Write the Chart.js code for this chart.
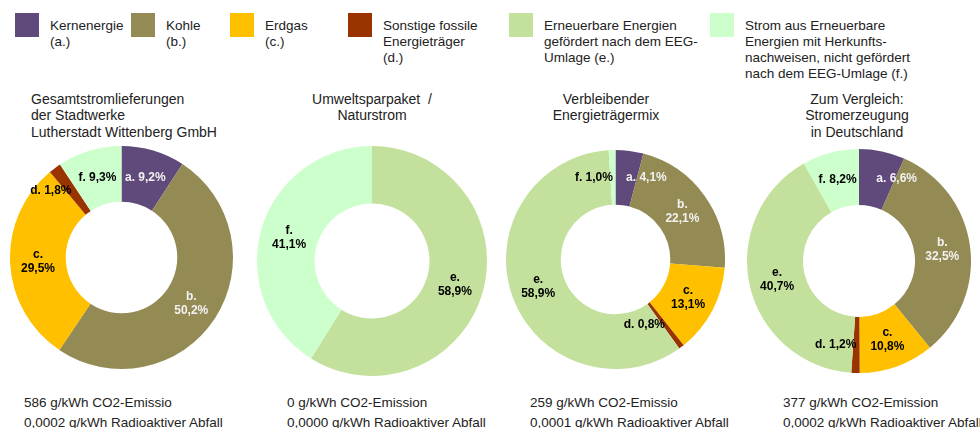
<!DOCTYPE html>
<html>
<head>
<meta charset="utf-8">
<script src="https://cdn.jsdelivr.net/npm/chart.js@4/dist/chart.umd.min.js"></script>
<style>
body { margin: 0; width: 980px; height: 428px; background: #fff; position: relative; overflow: hidden;
  font-family: "Liberation Sans", Arial, sans-serif; color: #222; }
.sw { position: absolute; width: 24px; height: 24px; }
.lg { position: absolute; top: 17.5px; font-size: 13.5px; line-height: 16px; white-space: nowrap; }
.tt { position: absolute; font-size: 14px; line-height: 16.5px; white-space: nowrap; top: 90.5px; }
.bt { position: absolute; top: 392.5px; font-size: 13.5px; line-height: 20px; white-space: nowrap; }
canvas { position: absolute; }
</style>
</head>
<body>
<div id="legend"></div>
<div id="titles"></div>
<div id="bottom"></div>
<canvas id="c0" width="223" height="223" style="left:10px;top:146px"></canvas>
<canvas id="c1" width="230" height="230" style="left:257px;top:146px"></canvas>
<canvas id="c2" width="219" height="219" style="left:506px;top:150px"></canvas>
<canvas id="c3" width="224" height="224" style="left:747px;top:149px"></canvas>
<script>
// ---- data ----
const letters = ["a", "b", "c", "d", "e", "f"];
const categories = [
  "Kernenergie<br>(a.)",
  "Kohle<br>(b.)",
  "Erdgas<br>(c.)",
  "Sonstige fossile<br>Energieträger<br>(d.)",
  "Erneuerbare Energien<br>gefördert nach dem EEG-<br>Umlage (e.)",
  "Strom aus Erneuerbare<br>Energien mit Herkunfts-<br>nachweisen, nicht gefördert<br>nach dem EEG-Umlage (f.)"
];
const colors = ["#604A7B", "#948A54", "#FFC000", "#993300", "#C3E19C", "#CCFFCC"];
const labelColors = ["#F2F2F2", "#F2F2F2", "#000", "#000", "#000", "#000"];

const gesamt = [9.2, 50.2, 29.5, 1.8, 0, 9.3];
const umweltsparpaket = [0, 0, 0, 0, 58.9, 41.1];
const verbleibend = [4.1, 22.1, 13.1, 0.8, 58.9, 1.0];
const deutschland = [6.6, 32.5, 10.8, 1.2, 40.7, 8.2];

const titles = [
  "Gesamtstromlieferungen<br>der Stadtwerke<br>Lutherstadt Wittenberg GmbH",
  "Umweltsparpaket&nbsp; /<br>Naturstrom",
  "Verbleibender<br>Energieträgermix",
  "Zum Vergleich:<br>Stromerzeugung<br>in Deutschland"
];
const co2 = ["586 g/kWh CO2-Emissio", "0 g/kWh CO2-Emission", "259 g/kWh CO2-Emissio", "377 g/kWh CO2-Emission"];
const waste = ["0,0002 g/kWh Radioaktiver Abfall", "0,0000 g/kWh Radioaktiver Abfall",
  "0,0001 g/kWh Radioaktiver Abfall", "0,0002 g/kWh Radioaktiver Abfall"];

// =========================
// LEGEND + TEXTS
// =========================
const swatchX = [15, 131, 230, 348, 509, 710];
const legendBox = document.getElementById("legend");
categories.forEach((txt, i) => {
  const sw = document.createElement("div");
  sw.className = "sw";
  sw.style.left = swatchX[i] + "px";
  sw.style.top = "13px";
  sw.style.background = colors[i];
  legendBox.appendChild(sw);
  const t = document.createElement("div");
  t.className = "lg";
  t.style.left = (swatchX[i] + 35) + "px";
  t.innerHTML = txt;
  legendBox.appendChild(t);
});

const titleBox = document.getElementById("titles");
const titleStyle = [
  "left:31px;text-align:left",
  "left:272px;width:200px;text-align:center",
  "left:506px;width:200px;text-align:center",
  "left:757px;width:200px;text-align:center"
];
titles.forEach((txt, i) => {
  const t = document.createElement("div");
  t.className = "tt";
  t.style.cssText = titleStyle[i];
  t.innerHTML = txt;
  titleBox.appendChild(t);
});

const bottomX = [24, 287, 530, 783];
const bottomBox = document.getElementById("bottom");
co2.forEach((txt, i) => {
  const t = document.createElement("div");
  t.className = "bt";
  t.style.left = bottomX[i] + "px";
  t.innerHTML = txt + "<br>" + waste[i];
  bottomBox.appendChild(t);
});

// =========================
// SLICE LABELS (plugin)
// =========================
const sliceLabels = {
  id: "sliceLabels",
  afterDatasetsDraw(chart) {
    const ctx = chart.ctx;
    const meta = chart.getDatasetMeta(0);
    const values = chart.data.datasets[0].data;
    ctx.save();
    ctx.font = 'bold 12px "Liberation Sans", Arial, sans-serif';
    ctx.textBaseline = "middle";
    meta.data.forEach((arc, i) => {
      const v = values[i];
      if (!v) return;
      const p = arc.getCenterPoint();
      const pct = v.toFixed(1).replace(".", ",") + "%";
      ctx.fillStyle = labelColors[i];
      if (v >= 10) {
        ctx.textAlign = "center";
        ctx.fillText(letters[i] + ".", p.x, p.y - 7);
        ctx.fillText(pct, p.x, p.y + 7);
      } else {
        let align = "center";
        if (v < 7) {
          const mid = (arc.startAngle + arc.endAngle) / 2 + Math.PI / 2;
          align = (mid > 0 && mid < Math.PI / 2) ? "left" : "right";
        }
        ctx.textAlign = align;
        ctx.fillText(letters[i] + ". " + pct, p.x, p.y);
      }
    });
    ctx.restore();
  }
};

function makeDonut(id, values) {
  return new Chart(document.getElementById(id), {
    type: "doughnut",
    data: {
      labels: letters,
      datasets: [{
        data: values,
        backgroundColor: colors,
        borderWidth: 0,
        hoverOffset: 0,
        offset: 0
      }]
    },
    options: {
      responsive: false,
      animation: false,
      events: [],
      cutout: "50%",
      layout: { padding: 0 },
      plugins: { legend: { display: false }, tooltip: { enabled: false } }
    },
    plugins: [sliceLabels]
  });
}

makeDonut("c0", gesamt);
makeDonut("c1", umweltsparpaket);
makeDonut("c2", verbleibend);
makeDonut("c3", deutschland);
</script>
</body>
</html>
